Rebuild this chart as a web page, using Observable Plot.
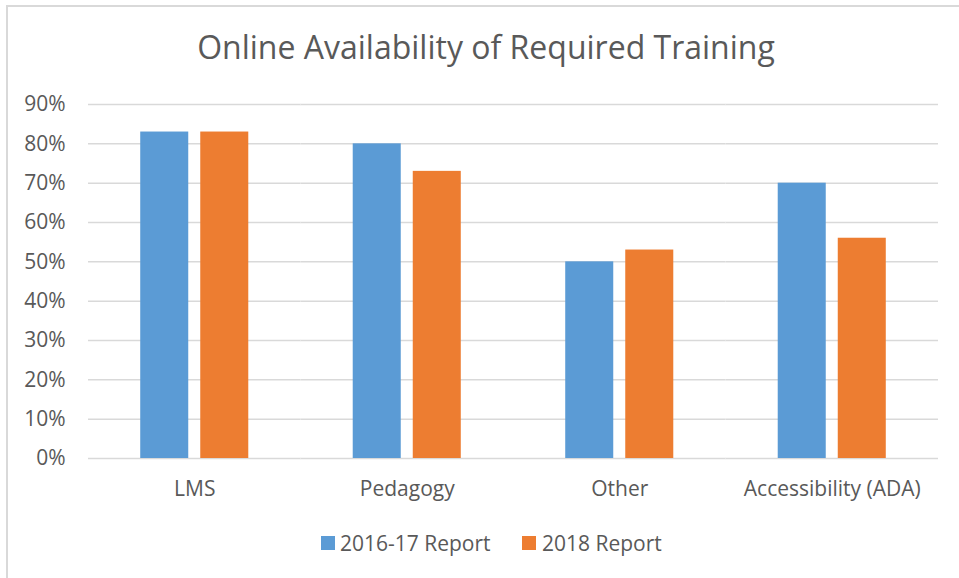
<!DOCTYPE html>
<html>
<head>
<meta charset="utf-8">
<script src="https://cdn.jsdelivr.net/npm/d3@7"></script>
<script src="https://cdn.jsdelivr.net/npm/@observablehq/plot@0.6"></script>
<style>
  html, body { margin: 0; padding: 0; background: #fff; }
  body { width: 959px; height: 578px; position: relative; overflow: hidden; font-family: "Open Sans", sans-serif; color: #595959; }
  #frame { position: absolute; left: 6px; top: 5px; width: 960px; height: 580px; border-top: 2px solid #d9d9d9; border-left: 2px solid #d9d9d9; box-sizing: border-box; }
  #title { position: absolute; left: 0; width: 972px; top: 31px; text-align: center; font-size: 32px; line-height: 32px; white-space: nowrap; }
  #chart { position: absolute; left: 0; top: 80px; }
  #legend { position: absolute; top: 533px; left: 0; width: 959px; height: 21px; font-size: 21px; line-height: 21px; }
  .sw { position: absolute; top: 3px; width: 14px; height: 14px; }
  .lt { position: absolute; top: 0; white-space: nowrap; }
</style>
</head>
<body>
<div id="frame"></div>
<div id="title">Online Availability of Required Training</div>
<div id="chart"></div>
<div id="legend"></div>
<script>
const categories = ["LMS", "Pedagogy", "Other", "Accessibility (ADA)"];
const seriesNames = ["2016-17 Report", "2018 Report"];
const seriesColors = ["#5B9BD5", "#ED7D31"];
const report2016 = [0.83, 0.80, 0.50, 0.70];
const report2018 = [0.83, 0.73, 0.53, 0.56];
const yTicks = [0, 0.1, 0.2, 0.3, 0.4, 0.5, 0.6, 0.7, 0.8, 0.9];

const data = [];
categories.forEach((c, i) => {
  data.push({category: c, series: seriesNames[0], value: report2016[i]});
  data.push({category: c, series: seriesNames[1], value: report2018[i]});
});

const plot = Plot.plot({
  width: 959,
  height: 440,
  marginTop: 24,
  marginBottom: 62,
  marginLeft: 88,
  marginRight: 21,
  style: {fontFamily: "'Open Sans', sans-serif", fontSize: "21px", color: "#595959", background: "transparent", overflow: "visible"},
  fx: {domain: categories, padding: 0, round: false, axis: "bottom", tickSize: 0, tickPadding: 23, label: null},
  x: {domain: seriesNames, paddingInner: 0.2, paddingOuter: 0.87, round: false, axis: null},
  y: {domain: [0, 0.9], ticks: yTicks, tickSize: 0, tickPadding: 23, tickFormat: d => Math.round(d * 100) + "%", label: null},
  color: {domain: seriesNames, range: seriesColors},
  marks: [
    Plot.ruleY(yTicks, {stroke: "#d9d9d9", strokeWidth: 1.5}),
    Plot.barY(data, {fx: "category", x: "series", y: "value", fill: "series"})
  ]
});
document.getElementById("chart").appendChild(plot);

const legend = document.getElementById("legend");
const legendPos = [[321, 340], [522, 542]];
seriesNames.forEach((s, i) => {
  const sw = document.createElement("div");
  sw.className = "sw";
  sw.style.left = legendPos[i][0] + "px";
  sw.style.background = seriesColors[i];
  legend.appendChild(sw);
  const t = document.createElement("div");
  t.className = "lt";
  t.style.left = legendPos[i][1] + "px";
  t.textContent = s;
  legend.appendChild(t);
});
</script>
</body>
</html>
